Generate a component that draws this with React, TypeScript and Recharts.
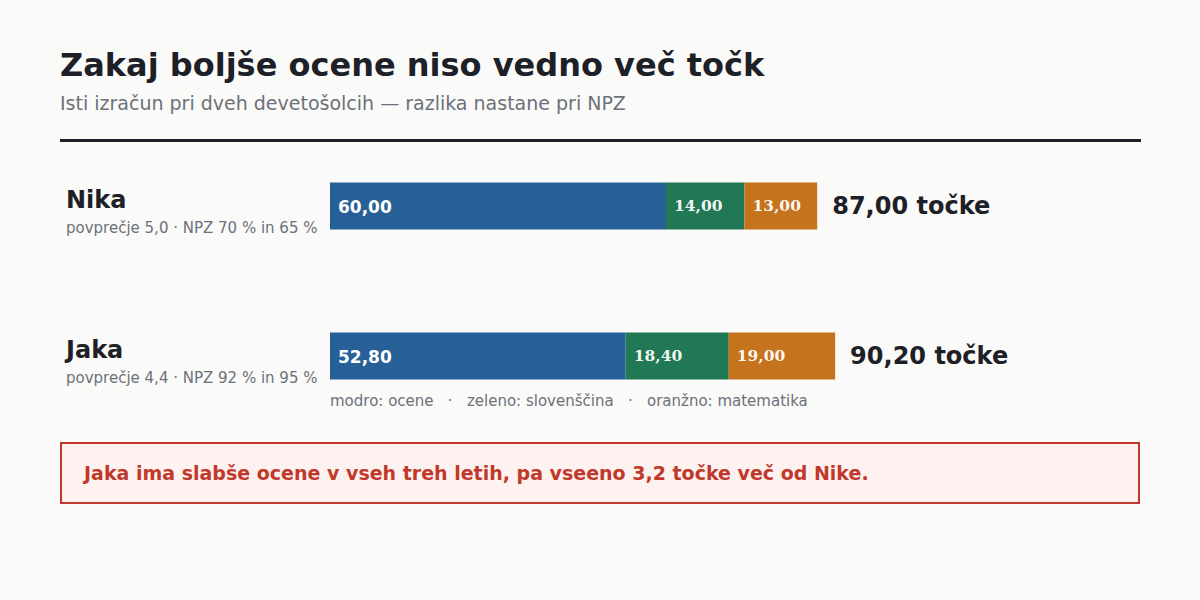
import React from 'react';
import { BarChart, Bar, XAxis, YAxis, LabelList, Customized } from 'recharts';

const names = ['Nika', 'Jaka'];
const details = ['povprečje 5,0 · NPZ 70 % in 65 %', 'povprečje 4,4 · NPZ 92 % in 95 %'];
const grades = [60, 52.8];
const slovene = [14, 18.4];
const maths = [13, 19];
const totals = [87, 90.2];

const COLORS = { blue: '#266096', green: '#217855', orange: '#c6731e', dark: '#1e2027', gray: '#6c717a', red: '#c0392b' };
const SANS = 'DejaVu Sans, Verdana, sans-serif';

const data = names.map((n, i) => ({ name: n, grades: grades[i], slovene: slovene[i], maths: maths[i], total: totals[i] }));
const fmt = (v: number) => v.toFixed(2).replace('.', ',');

const NameTick = (props: any) => {
  const { y, payload, index } = props;
  return (
    <g>
      <text x={66} y={y + 2.5} fontFamily={SANS} fontWeight="bold" fontSize={24} fill={COLORS.dark}>{payload.value}</text>
      <text x={66} y={y + 27} fontFamily={SANS} fontSize={15} fill={COLORS.gray}>{details[index]}</text>
    </g>
  );
};

const BlueLabel = (props: any) => {
  const { x, y, height, value } = props;
  return <text x={x + 8} y={y + height / 2 + 6.5} fontFamily={SANS} fontWeight="bold" fontSize={17} fill="#ffffff">{fmt(value)}</text>;
};
const SerifLabel = (props: any) => {
  const { x, y, height, value } = props;
  return <text x={x + 8} y={y + height / 2 + 5} fontFamily="DejaVu Serif, serif" fontWeight="bold" fontSize={15.5} fill="#ffffff" fillOpacity={0.95}>{fmt(value)}</text>;
};
const TotalLabel = (props: any) => {
  const { x, y, width, height, index } = props;
  return <text x={x + width + 15} y={y + height / 2 + 8} fontFamily={SANS} fontWeight="bold" fontSize={24} fill={COLORS.dark}>{fmt(totals[index])} točke</text>;
};

const Decor = () => (
  <g>
    <text x={60} y={76} fontFamily={SANS} fontWeight="bold" fontSize={32} fill={COLORS.dark}>Zakaj boljše ocene niso vedno več točk</text>
    <text x={60} y={110} fontFamily={SANS} fontSize={19} fill={COLORS.gray}>Isti izračun pri dveh devetošolcih — razlika nastane pri NPZ</text>
    <rect x={60} y={139} width={1081} height={3} fill={COLORS.dark} />
    <text x={330} y={406} fontFamily={SANS} fontSize={15} fill={COLORS.gray} style={{ whiteSpace: 'pre' }}>{'modro: ocene   ·   zeleno: slovenščina   ·   oranžno: matematika'}</text>
    <rect x={61} y={443} width={1078} height={60} fill="#fdf2f0" stroke={COLORS.red} strokeWidth={2} />
    <text x={84} y={480} fontFamily={SANS} fontWeight="bold" fontSize={19} fill={COLORS.red}>Jaka ima slabše ocene v vseh treh letih, pa vseeno 3,2 točke več od Nike.</text>
  </g>
);

export default function App() {
  return (
    <div style={{ position: 'fixed', left: 0, top: 0, width: 1200, height: 600, background: '#fafaf8' }}>
      <BarChart width={1200} height={600} data={data} layout="vertical" margin={{ top: 130.5, bottom: 169.5, left: 60, right: 310 }} barCategoryGap={0}>
        <XAxis type="number" domain={[0, 100]} hide />
        <YAxis type="category" dataKey="name" width={270} axisLine={false} tickLine={false} tick={<NameTick />} />
        <Bar dataKey="grades" stackId="a" fill={COLORS.blue} barSize={47} isAnimationActive={false}>
          <LabelList dataKey="grades" content={<BlueLabel />} />
        </Bar>
        <Bar dataKey="slovene" stackId="a" fill={COLORS.green} barSize={47} isAnimationActive={false}>
          <LabelList dataKey="slovene" content={<SerifLabel />} />
        </Bar>
        <Bar dataKey="maths" stackId="a" fill={COLORS.orange} barSize={47} isAnimationActive={false}>
          <LabelList dataKey="maths" content={<SerifLabel />} />
          <LabelList dataKey="total" content={<TotalLabel />} />
        </Bar>
        <Customized component={<Decor />} />
      </BarChart>
    </div>
  );
}
